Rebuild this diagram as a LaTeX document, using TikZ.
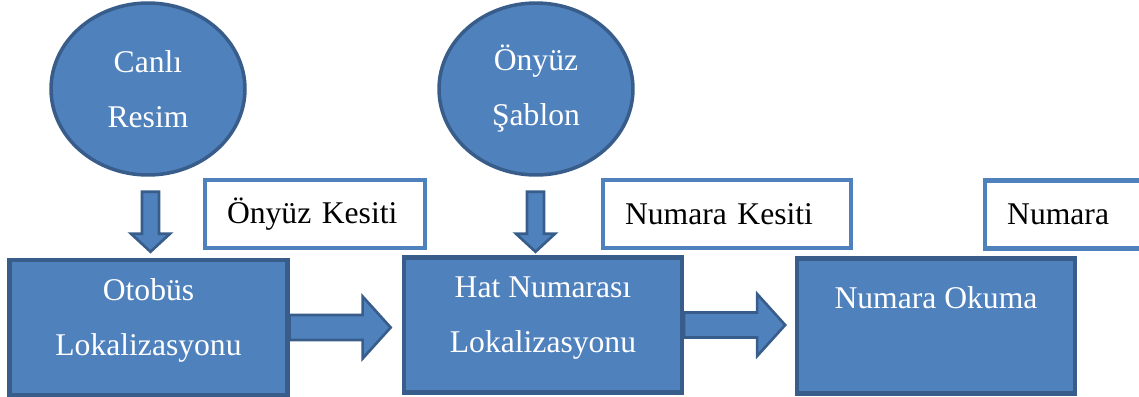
\documentclass[tikz,border=0pt]{standalone}
\usepackage{fontspec}
\setmainfont{Liberation Serif}
\usetikzlibrary{shapes.geometric}
\definecolor{boxblue}{HTML}{4F81BD}
\definecolor{edgeblue}{HTML}{385D8A}

\begin{document}
\begin{tikzpicture}[x=0.02cm, y=-0.02cm,
    every node/.style={font=\fontsize{18}{31.3}\selectfont},
    source/.style={ellipse, fill=boxblue, draw=edgeblue, line width=2pt, text=white,
        align=center, minimum width=3.88cm, minimum height=3.44cm},
    stage/.style={rectangle, fill=boxblue, draw=edgeblue, line width=2.5pt, text=white,
        align=center, minimum width=5.56cm, minimum height=2.7cm, text depth=0.4cm},
    result/.style={rectangle, fill=white, draw=boxblue, line width=2.5pt,
        align=left, inner xsep=0.44cm, minimum height=1.36cm},
    blockarrow/.style={fill=boxblue, draw=edgeblue, line width=1.5pt}]
    \clip (0,0) rectangle (1139,396);

    % inputs
    \node[source] (canli) at (148,89) {Canlı\\Resim};
    \node[source] (sablon) at (536,89) {Önyüz\\Şablon};

    % stages
    \node[stage] (otobus) at (148.5,327.5) {Otobüs\\Lokalizasyonu};
    \node[stage] (hat) at (543,325) {Hat Numarası\\Lokalizasyonu};
    \node[stage, text depth=1.15cm] (okuma) at (936,326) {Numara Okuma};

    % outputs of each stage
    \node[result, text width=3.52cm] (kesit1) at (315,214) {Önyüz Kesiti};
    \node[result, text width=4.08cm] (kesit2) at (727,214) {Numara Kesiti};
    \node[result, text width=2.72cm, anchor=west] (numara) at (983,214.5) {Numara};

    % block arrows
    \foreach \src/\dx in {canli/-6, sablon/-9}
        \draw[blockarrow] (\src.south) ++(\dx,15) -- ++(17,0) -- ++(0,42) -- ++(11,0)
            -- ++(-19.5,18) -- ++(-19.5,-18) -- ++(11,0) -- cycle;
    \foreach \a in {otobus, hat}
        \draw[blockarrow] (\a.east) ++(0,-12.5) -- ++(73,0) -- ++(0,-18.5) -- ++(28,31)
            -- ++(-28,31) -- ++(0,-18.5) -- ++(-73,0) -- cycle;

\end{tikzpicture}
\end{document}
